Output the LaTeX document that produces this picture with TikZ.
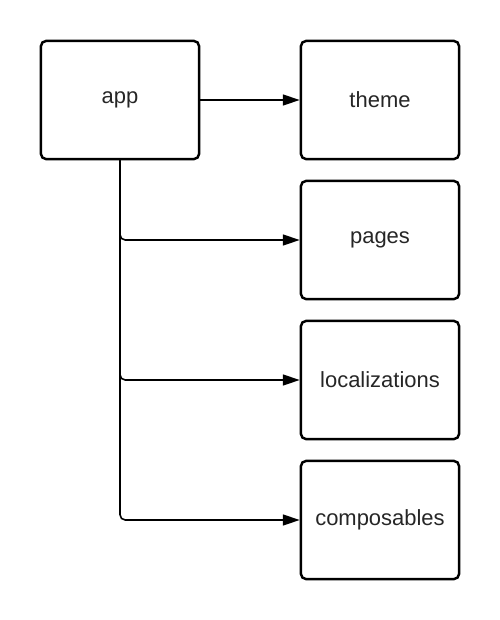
\documentclass[tikz,border=0pt]{standalone}
\usepackage{fontspec}
\setmainfont{Liberation Sans}
\usetikzlibrary{arrows.meta,positioning}

\begin{document}
\begin{tikzpicture}[x=0.02cm,y=-0.02cm,
    box/.style={draw, line width=1.4pt, rounded corners=3pt,
      minimum width=3.2cm-1pt, minimum height=2.4cm-1pt,
      font=\fontsize{12.5}{15}\selectfont, text=black!85},
    link/.style={line width=0.9pt, rounded corners=3pt,
      -{Triangle[length=9.5pt,width=6.2pt]}}]
    \useasboundingbox (0,0) rectangle (500,620);
    \node[box] (app) at (120,100) {app};
    \node[box] (theme) at (380,100) {theme};
    \node[box] (pages) at (380,240) {pages};
    \node[box] (loc) at (380,380) {localizations};
    \node[box] (comp) at (380,520) {composables};
    \draw[link] (app) -- (theme);
    \foreach \n in {pages,loc,comp} {
      \draw[link] (app.south) |- (\n.west);
    }
  \end{tikzpicture}
\end{document}
